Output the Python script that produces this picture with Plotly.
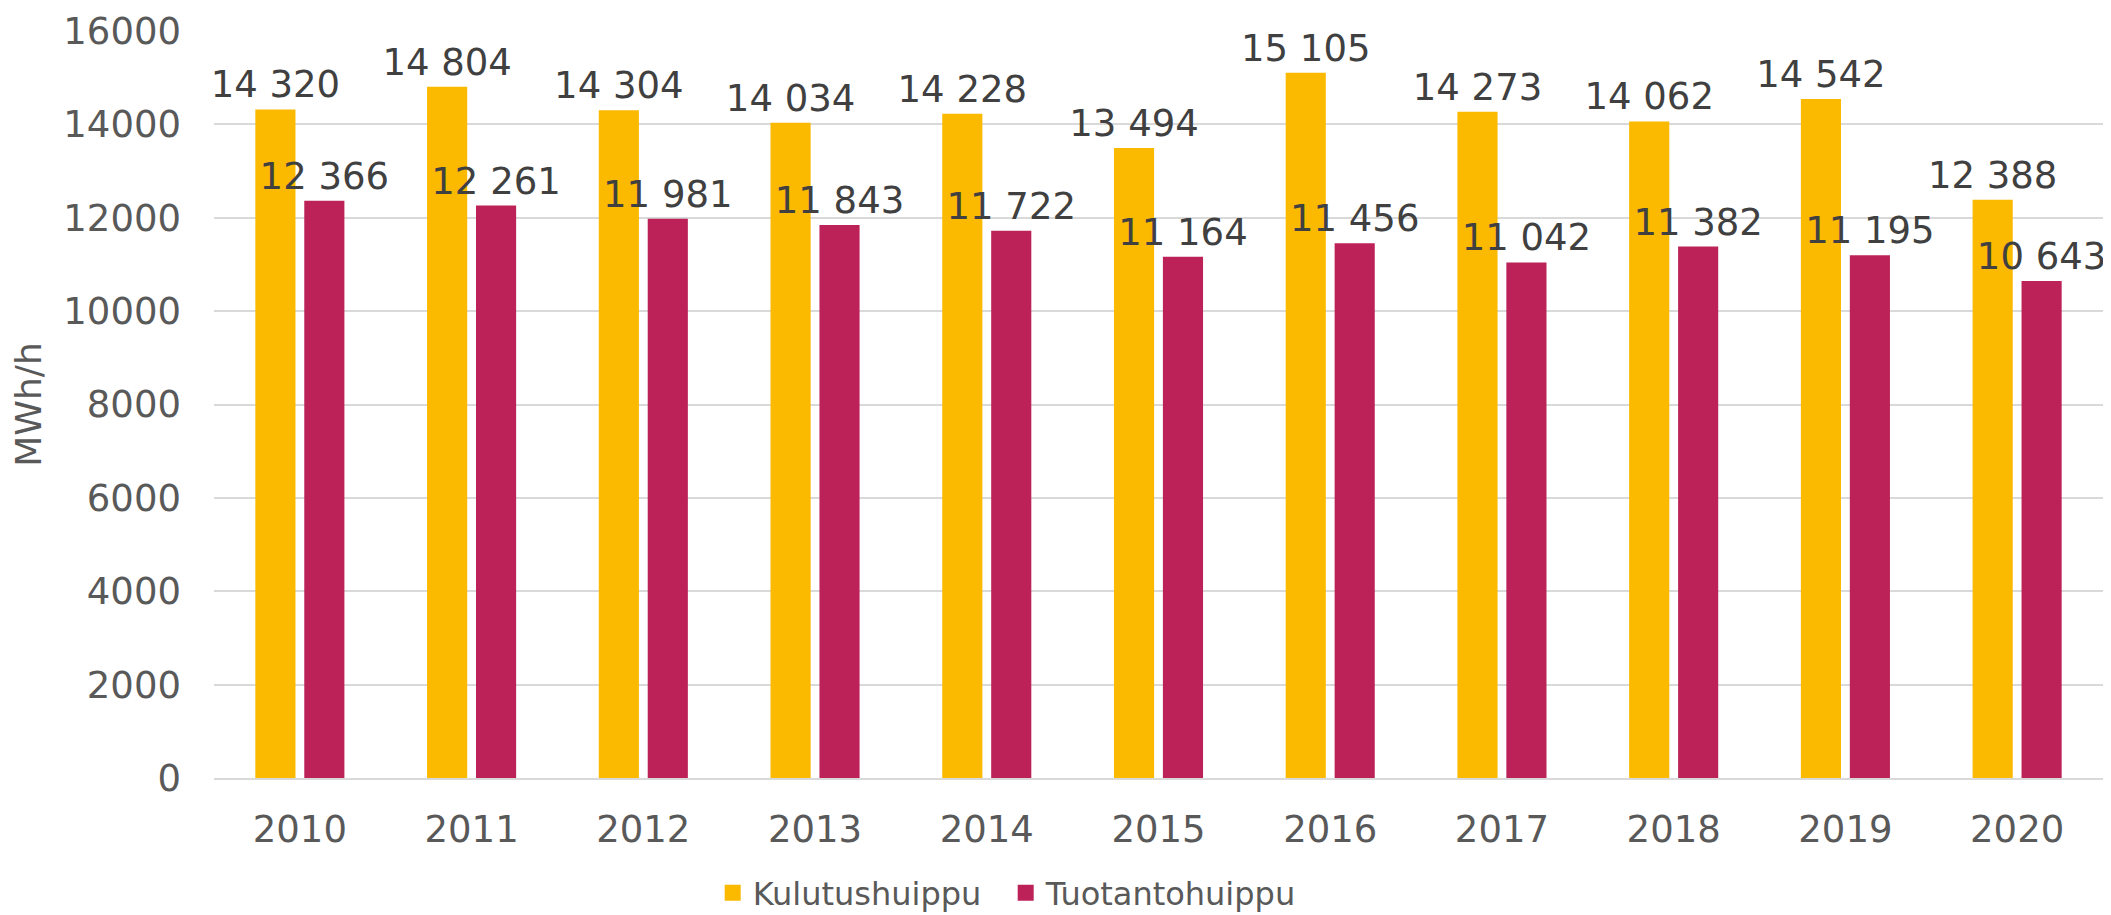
import plotly.graph_objects as go

years = ["2010", "2011", "2012", "2013", "2014", "2015", "2016", "2017", "2018", "2019", "2020"]
kulutus = [14320, 14804, 14304, 14034, 14228, 13494, 15105, 14273, 14062, 14542, 12388]
tuotanto = [12366, 12261, 11981, 11843, 11722, 11164, 11456, 11042, 11382, 11195, 10643]
y_ticks = [0, 2000, 4000, 6000, 8000, 10000, 12000, 14000, 16000]
series_names = ["Kulutushuippu", "Tuotantohuippu"]
series_colors = ["#FBB900", "#BC2257"]

FONT = "Verdana, DejaVu Sans, sans-serif"

def fmt(v):
    return f"{v:,}".replace(",", " ")

fig = go.Figure()
for name, vals, col in zip(series_names, [kulutus, tuotanto], series_colors):
    fig.add_trace(go.Bar(
        x=years, y=vals, name=name, showlegend=False,
        marker=dict(color=col, line=dict(width=0)),
        text=[fmt(v) for v in vals], textposition="outside",
        textfont=dict(size=37, color="#404040", family=FONT),
        constraintext="none", cliponaxis=False,
    ))
# legend proxies (square symbols)
for name, col in zip(series_names, series_colors):
    fig.add_trace(go.Scatter(
        x=[None], y=[None], mode="markers", name=name,
        marker=dict(symbol="square", size=16, color=col),
    ))

fig.update_layout(
    width=2103, height=907,
    margin=dict(l=206, r=8, t=23, b=137, autoexpand=False),
    paper_bgcolor="white", plot_bgcolor="white",
    barmode="group", bargap=0.43, bargroupgap=0.18,
    font=dict(family=FONT, color="#595959", size=36),
    showlegend=True,
    legend=dict(orientation="h", x=0.264, xanchor="left", y=-0.154, yanchor="middle",
                font=dict(size=32, color="#595959"), entrywidth=248,
                traceorder="normal", itemsizing="trace"),
)
fig.update_xaxes(
    showgrid=False, showline=True, linecolor="#d9d9d9", linewidth=1.5,
    tickfont=dict(size=37, color="#595959"), ticks="", ticklabelstandoff=18,
)
fig.update_yaxes(
    range=[0, 16000], tickvals=y_ticks, tickformat="d",
    showgrid=True, gridcolor="#d9d9d9", gridwidth=1.5, zeroline=False,
    showline=False, ticks="", tickfont=dict(size=37, color="#595959"),
    ticklabelstandoff=32,
    title=dict(text="MWh/h", font=dict(size=36, color="#595959"), standoff=21),
)

fig.write_html("out.html")
